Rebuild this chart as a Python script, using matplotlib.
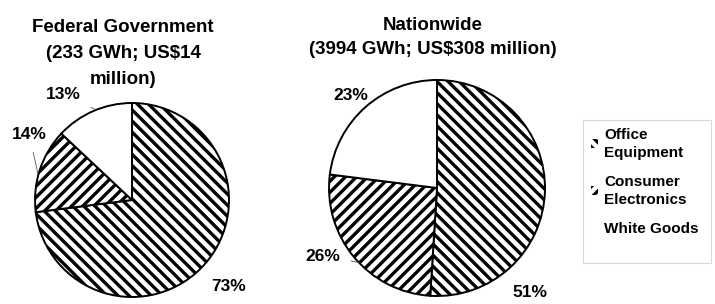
import numpy as np
import matplotlib
matplotlib.use("Agg")
import matplotlib.pyplot as plt
from matplotlib.patches import Patch, Rectangle

# data
categories = ["Office\nEquipment", "Consumer\nElectronics", "White Goods"]
federal_share = [73, 14, 13]
nationwide_share = [51, 26, 23]
federal_title = "Federal Government\n(233 GWh; US$14\nmillion)"
nationwide_title = "Nationwide\n(3994 GWh; US$308 million)"

hatches = ["\\\\\\", "///", ""]

plt.rcParams['font.family'] = ['Liberation Sans', 'DejaVu Sans']
plt.rcParams['font.weight'] = 'bold'
plt.rcParams['hatch.linewidth'] = 2.4
plt.rcParams['hatch.color'] = 'black'

W, H = 715, 304
fig = plt.figure(figsize=(W / 100, H / 100), dpi=100)


def pie_axes(cx, cy, r):
    # pixel centre/radius -> figure fraction axes
    return fig.add_axes([(cx - r) / W, (H - cy - r) / H, 2 * r / W, 2 * r / H])


def draw_pie(ax, shares, label_pos, leaders):
    wedges, _ = ax.pie(shares, startangle=90, counterclock=False,
                       colors=['white'] * 3,
                       wedgeprops=dict(edgecolor='black', linewidth=1.4))
    for w, h in zip(wedges, hatches):
        w.set_hatch(h)
    ax.set_xlim(-1, 1)
    ax.set_ylim(-1, 1)
    ax.set_aspect('equal')
    ax.axis('off')
    for s, (x, y), lead in zip(shares, label_pos, leaders):
        if lead is None:
            ax.text(x, y, f"{s}%", ha='center', va='center', fontsize=12.5,
                    clip_on=False)
        else:
            ax.annotate(f"{s}%", xy=lead, xytext=(x, y), ha='center',
                        va='center', fontsize=12.5, annotation_clip=False,
                        arrowprops=dict(arrowstyle='-', color='#555555',
                                        lw=0.6, shrinkA=6, shrinkB=0))


ax1 = pie_axes(132, 200, 97)
draw_pie(ax1, federal_share,
         [(1.0, -0.89), (-1.06, 0.68), (-0.71, 1.09)],
         [None, (-0.97, 0.27), (-0.39, 0.94)])
fig.text(123 / W, 1 - 19 / H, federal_title, ha='center', va='top',
         fontsize=13.5, linespacing=1.7)

ax2 = pie_axes(437, 188, 108)
draw_pie(ax2, nationwide_share,
         [(0.86, -0.97), (-1.06, -0.63), (-0.8, 0.86)],
         [None, (-0.72, -0.69), None])
fig.text(433 / W, 1 - 17 / H, nationwide_title, ha='center', va='top',
         fontsize=13.5, linespacing=1.5)

# legend
handles = [Patch(facecolor='white', edgecolor='black', linewidth=0, hatch=h)
           for h in hatches]
fig.add_artist(Rectangle((583 / W, 1 - 263 / H), 128 / W, 143 / H,
                         transform=fig.transFigure, facecolor='white',
                         edgecolor='#d8d8d8', linewidth=0.8))
leg = fig.legend(handles, categories, loc='upper left',
                 bbox_to_anchor=(580 / W, 1 - 117 / H), frameon=False,
                 fontsize=11, handlelength=0.5, handleheight=0.5,
                 handletextpad=0.4, labelspacing=1.0, borderpad=0.2)
for t in leg.get_texts():
    t.set_linespacing(1.35)

fig.savefig("out.png", dpi=100)
